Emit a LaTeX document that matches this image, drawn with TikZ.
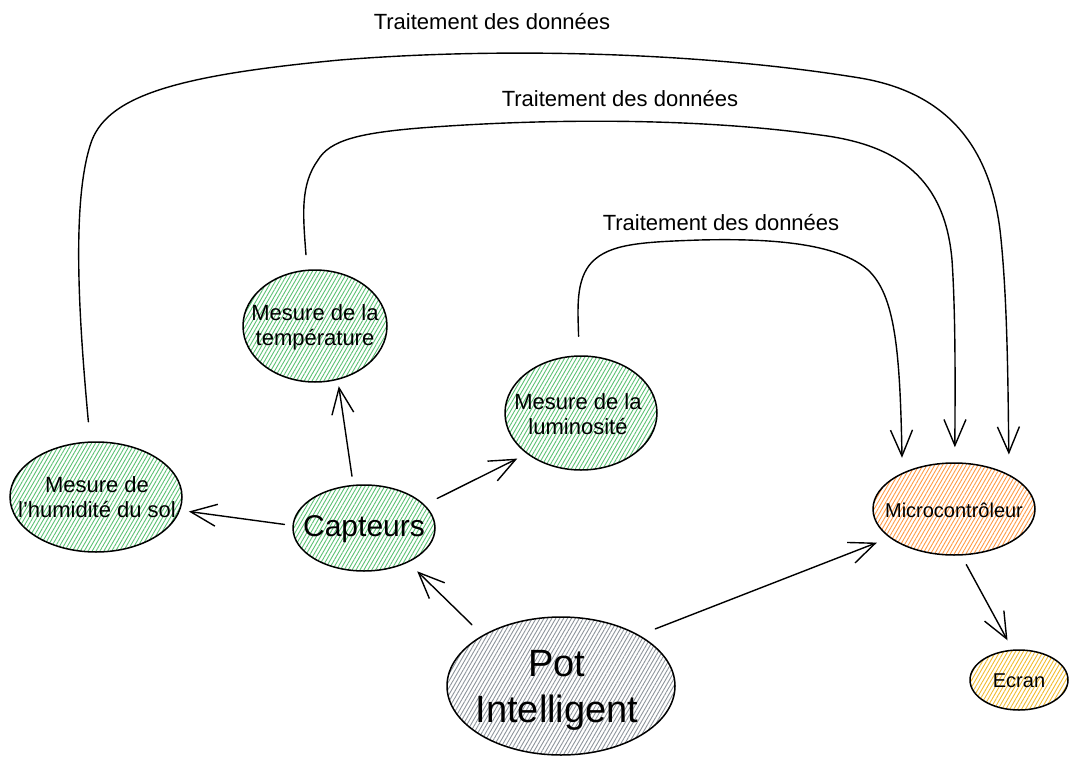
\documentclass[tikz,border=0pt]{standalone}
\usepackage{fontspec}
\setmainfont{Liberation Sans}
\usetikzlibrary{shapes.geometric,arrows.meta,patterns.meta}
\definecolor{hgreen}{HTML}{5CC274}
\definecolor{horange}{HTML}{FF9A45}
\definecolor{hyellow}{HTML}{F2BB2E}
\definecolor{hgray}{HTML}{8E959C}
\begin{document}
\begin{tikzpicture}[x=1pt,y=-1pt,
  blob/.style={ellipse, draw=black, line width=1.5pt, inner sep=0pt},
  hatch/.style={pattern={Lines[angle=60,distance=3.4pt,line width=0.9pt]}, pattern color=#1},
  txt/.style={align=center, inner sep=0pt, font=\fontsize{22}{25}\selectfont},
  lbl/.style={inner sep=0pt, font=\fontsize{22}{25}\selectfont},
  arr/.style={line width=1.4pt, line cap=round, line join=round, -{Straight Barb[length=26pt,width=22pt,line width=1.4pt]}}
]
\useasboundingbox[fill=white] (0,0) rectangle (1078,765);

% nodes
\node[blob, hatch=hgreen, minimum width=172pt, minimum height=110pt] (hum) at (96,497) {};
\node[txt] (humt) at (97,497) {Mesure de\\l'humidité du sol};

\node[blob, hatch=hgreen, minimum width=142pt, minimum height=86pt] (capt) at (364,528) {};
\node[txt, font=\fontsize{30}{34}\selectfont] (captt) at (364,529) {Capteurs};

\node[blob, hatch=hgreen, minimum width=144pt, minimum height=112pt] (temp) at (315,326) {};
\node[txt] (tempt) at (315,327) {Mesure de la\\température};

\node[blob, hatch=hgreen, minimum width=152pt, minimum height=114pt] (lum) at (581,413) {};
\node[txt] (lumt) at (578,414) {Mesure de la\\luminosité};

\node[blob, hatch=horange, minimum width=162pt, minimum height=92pt] (micro) at (954,509) {};
\node[txt, font=\fontsize{20}{24}\selectfont] (microt) at (954,510) {Microcontrôleur};

\node[blob, hatch=hyellow, minimum width=98pt, minimum height=60pt] (ecran) at (1019,680) {};
\node[txt, font=\fontsize{20}{24}\selectfont] (ecrant) at (1019,681) {Ecran};

\node[blob, hatch=hgray, minimum width=228pt, minimum height=138pt] (pot) at (561,686) {};
\node[txt, font=\fontsize{38}{46}\selectfont] (pott) at (557,690) {Pot\\Intelligent};

% labels
\node[lbl] (l1) at (492,22) {Traitement des données};
\node[lbl] (l2) at (620,99) {Traitement des données};
\node[lbl] (l3) at (721,223) {Traitement des données};

% straight connectors
\draw[arr, shorten <=8pt, shorten >=9pt] (capt.178.5) -- (hum.-9.3);
\draw[arr, shorten <=8.7pt, shorten >=6.4pt] (capt.104.3) -- (temp.-67);
\draw[arr, shorten <=14pt, shorten >=10.6pt] (capt.21) -- (lum.-143.9);
\draw[arr, shorten <=14.8pt, shorten >=12.6pt] (pot.147.5) -- (capt.-38.4);
\draw[arr, shorten <=17pt, shorten >=13.5pt] (pot.33.1) -- (micro.-156.8);
\draw[arr, shorten <=10.3pt, shorten >=10.5pt] (micro.-81.9) -- (ecran.102.7);

% curved connectors
\draw[arr, shorten <=20pt, shorten >=20pt] (hum.96.2) .. controls (80,330) and (70,200) .. (92,140)
  .. controls (110,95) and (180,75) .. (340,60)
  .. controls (500,47) and (700,52) .. (860,78)
  .. controls (950,93) and (990,150) .. (1000,230)
  .. controls (1008,300) and (1008,400) .. (micro.32.4);
\draw[arr, shorten <=15pt, shorten >=15pt] (temp.98.2) .. controls (303,215) and (300,185) .. (318,160)
  .. controls (330,140) and (360,133) .. (420,128)
  .. controls (550,118) and (700,118) .. (820,135)
  .. controls (900,145) and (945,180) .. (952,260)
  .. controls (956,320) and (955,400) .. (micro.89);
\draw[arr, shorten <=19pt, shorten >=15pt] (lum.92.3) .. controls (578,310) and (575,280) .. (592,262)
  .. controls (610,244) and (640,242) .. (700,240)
  .. controls (780,238) and (840,245) .. (868,270)
  .. controls (895,295) and (900,350) .. (micro.145);
\end{tikzpicture}
\end{document}
